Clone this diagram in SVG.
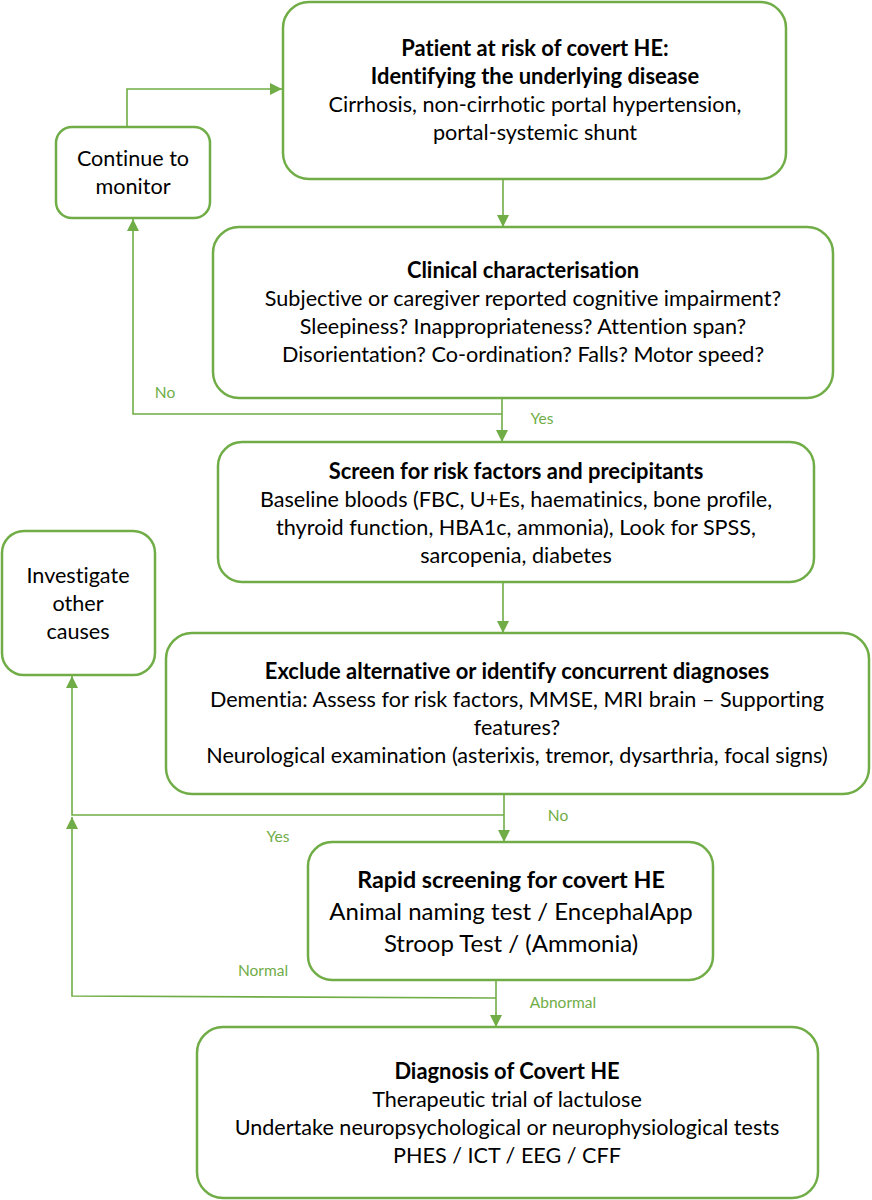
<svg xmlns="http://www.w3.org/2000/svg" width="872" height="1200" viewBox="0 0 872 1200">
<style>
.box{fill:#fff;stroke:#70AD47;stroke-width:2.5}
.t{font-family:Lato,"Liberation Sans",sans-serif;font-size:21.6px;fill:#000;text-anchor:middle;font-variant-ligatures:none}
.b{font-weight:bold;font-size:21.9px}
.big{font-size:24px}
.bigb{font-size:23.3px}
.lbl{font-family:Lato,"Liberation Sans",sans-serif;font-size:15.5px;fill:#70AD47;text-anchor:middle}
.c{fill:none;stroke:#70AD47;stroke-width:1.6}
</style>
<defs>
<marker id="ah" viewBox="0 0 10 10" refX="10" refY="5" markerWidth="12" markerHeight="12" markerUnits="userSpaceOnUse" orient="auto">
<path d="M0,0 L10,5 L0,10 z" fill="#70AD47"/>
</marker>
</defs>
<rect width="872" height="1200" fill="#fff"/>
<g id="connectors">
<path class="c" d="M503,179 V227" marker-end="url(#ah)"/>
<path class="c" d="M502,398 V442" marker-end="url(#ah)"/>
<path class="c" d="M502,414 H133 V219" marker-end="url(#ah)"/>
<path class="c" d="M127,127 V89 H282" marker-end="url(#ah)"/>
<path class="c" d="M503,582 V633" marker-end="url(#ah)"/>
<path class="c" d="M504,794 V842" marker-end="url(#ah)"/>
<path class="c" d="M504,815 H72 V676" marker-end="url(#ah)"/>
<path class="c" d="M496,980 V1027" marker-end="url(#ah)"/>
<path class="c" d="M496,998 L72,996 V817" marker-end="url(#ah)"/>
<text class="lbl" x="165" y="398">No</text>
<text class="lbl" x="542" y="424">Yes</text>
<text class="lbl" x="558" y="821">No</text>
<text class="lbl" x="278" y="842">Yes</text>
<text class="lbl" x="263" y="976">Normal</text>
<text class="lbl" x="563" y="1008">Abnormal</text>
</g>
<g id="n1">
<rect class="box" x="283" y="2" width="503" height="177" rx="26"/>
<text class="t b" x="535" y="56">Patient at risk of covert HE:</text>
<text class="t b" x="535" y="84">Identifying the underlying disease</text>
<text class="t" x="535" y="112">Cirrhosis, non-cirrhotic portal hypertension,</text>
<text class="t" x="535" y="140">portal-systemic shunt</text>
</g>
<g id="n_monitor">
<rect class="box" x="56" y="127" width="154" height="91" rx="16"/>
<text class="t" x="133" y="166">Continue to</text>
<text class="t" x="133" y="194">monitor</text>
</g>
<g id="n2">
<rect class="box" x="213" y="227" width="620" height="171" rx="26"/>
<text class="t b" x="523" y="278">Clinical characterisation</text>
<text class="t" x="523" y="306">Subjective or caregiver reported cognitive impairment?</text>
<text class="t" x="523" y="334">Sleepiness? Inappropriateness? Attention span?</text>
<text class="t" x="523" y="362">Disorientation? Co-ordination? Falls? Motor speed?</text>
</g>
<g id="n3">
<rect class="box" x="218" y="442" width="596" height="140" rx="24"/>
<text class="t b" x="516" y="479">Screen for risk factors and precipitants</text>
<text class="t" x="516" y="507">Baseline bloods (FBC, U+Es, haematinics, bone profile,</text>
<text class="t" x="516" y="535">thyroid function, HBA1c, ammonia), Look for SPSS,</text>
<text class="t" x="516" y="563">sarcopenia, diabetes</text>
</g>
<g id="n_investigate">
<rect class="box" x="2" y="531" width="153" height="144" rx="22"/>
<text class="t" x="78" y="583">Investigate</text>
<text class="t" x="78" y="611">other</text>
<text class="t" x="78" y="639">causes</text>
</g>
<g id="n4">
<rect class="box" x="166" y="633" width="703" height="161" rx="26"/>
<text class="t b" x="517" y="679">Exclude alternative or identify concurrent diagnoses</text>
<text class="t" x="517" y="707">Dementia: Assess for risk factors, MMSE, MRI brain – Supporting</text>
<text class="t" x="517" y="735">features?</text>
<text class="t" x="517" y="763">Neurological examination (asterixis, tremor, dysarthria, focal signs)</text>
</g>
<g id="n5">
<rect class="box" x="308" y="842" width="405" height="138" rx="24"/>
<text class="t b bigb" x="511" y="888">Rapid screening for covert HE</text>
<text class="t big" x="511" y="920">Animal naming test / EncephalApp</text>
<text class="t big" x="511" y="952">Stroop Test / (Ammonia)</text>
</g>
<g id="n6">
<rect class="box" x="197" y="1027" width="621" height="171" rx="26"/>
<text class="t b" x="507" y="1079">Diagnosis of Covert HE</text>
<text class="t" x="507" y="1107">Therapeutic trial of lactulose</text>
<text class="t" x="507" y="1135">Undertake neuropsychological or neurophysiological tests</text>
<text class="t" x="507" y="1163">PHES / ICT / EEG / CFF</text>
</g>
</svg>
